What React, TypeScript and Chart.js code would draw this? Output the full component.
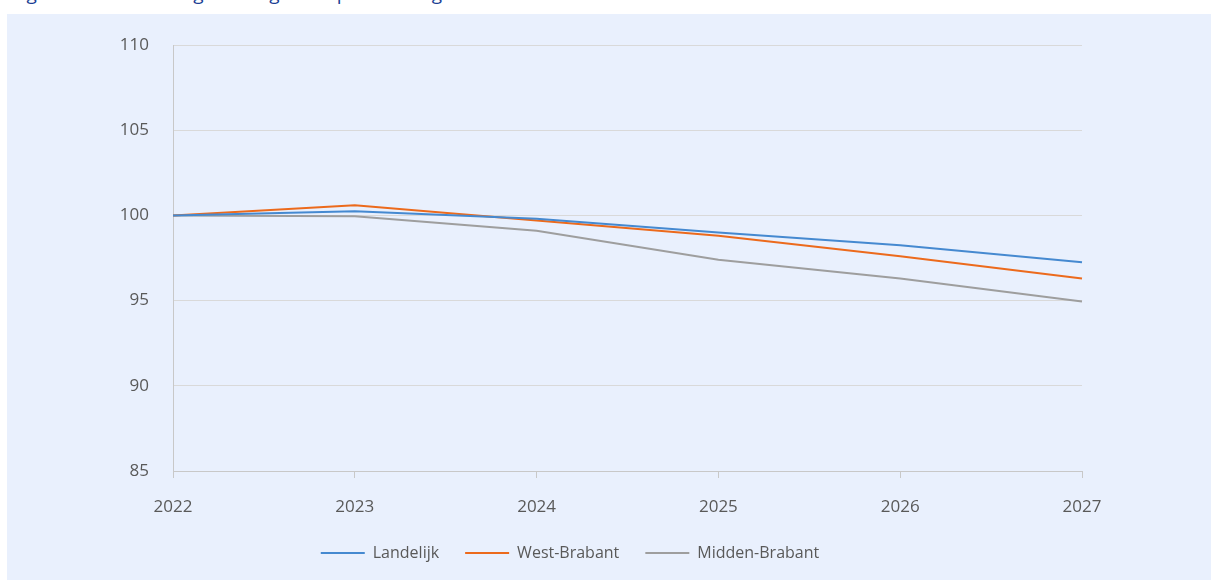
import React, { useEffect, useRef } from "react";
import { Chart, registerables } from "chart.js";

Chart.register(...registerables);

const years = ["2022", "2023", "2024", "2025", "2026", "2027"];
const landelijk = [100, 100.25, 99.8, 99.0, 98.25, 97.25];
const westBrabant = [100, 100.6, 99.7, 98.8, 97.6, 96.3];
const middenBrabant = [100, 99.95, 99.1, 97.4, 96.3, 94.95];

const seriesNames = ["Landelijk", "West-Brabant", "Midden-Brabant"];
const seriesColors = ["#4589d0", "#ec6a1c", "#9e9e9e"];

const yMin = 85;
const yMax = 110;
const yStep = 5;

export default function App() {
  const canvasRef = useRef<HTMLCanvasElement | null>(null);

  useEffect(() => {
    if (!canvasRef.current) return;
    const seriesData = [landelijk, westBrabant, middenBrabant];
    const chart = new Chart(canvasRef.current, {
      type: "line",
      data: {
        labels: years,
        datasets: seriesData.map((d, i) => ({
          label: seriesNames[i],
          data: d,
          borderColor: seriesColors[i],
          backgroundColor: seriesColors[i],
          borderWidth: 2,
          pointRadius: 0,
          tension: 0,
          fill: false,
        })),
      },
      options: {
        animation: false,
        responsive: false,
        maintainAspectRatio: false,
        layout: { padding: { left: 51, right: 129, top: 31, bottom: 9 } },
        plugins: {
          tooltip: { enabled: false },
          legend: {
            position: "bottom",
            labels: {
              boxWidth: 44,
              boxHeight: 2,
              padding: 26,
              color: "#595959",
              font: { family: "'Open Sans', sans-serif", size: 16 },
              generateLabels: (c: any) =>
                Chart.defaults.plugins.legend.labels
                  .generateLabels(c)
                  .map((l: any) => ({ ...l, lineWidth: 0 })),
            },
          },
        },
        scales: {
          x: {
            offset: false,
            grid: {
              drawOnChartArea: false,
              drawTicks: true,
              tickLength: 7,
              color: "#c8c8c8",
              lineWidth: 1,
            },
            border: { display: true, color: "#c8c8c8", width: 1 },
            ticks: {
              padding: 19,
              color: "#595959",
              maxRotation: 0,
              font: { family: "'Open Sans', sans-serif", size: 17 },
            },
            afterFit: (scale: any) => {
              scale.height = 48;
            },
          },
          y: {
            min: yMin,
            max: yMax,
            grid: {
              drawTicks: false,
              color: "#d9d9d9",
              lineWidth: 1,
            },
            border: { display: true, color: "#c8c8c8", width: 1 },
            ticks: {
              stepSize: yStep,
              padding: 24,
              color: "#595959",
              font: { family: "'Open Sans', sans-serif", size: 17 },
            },
            afterFit: (scale: any) => {
              scale.width = 115;
              scale.paddingTop = 10;
              scale.paddingBottom = 10;
            },
          },
        },
      },
    });
    return () => chart.destroy();
  }, []);

  return (
    <div
      style={{
        position: "absolute",
        left: 0,
        top: 0,
        width: 1211,
        height: 580,
        overflow: "hidden",
        background: "#ffffff",
      }}
    >
      <div
        style={{
          position: "absolute",
          top: -19,
          left: 12,
          fontFamily: "'Open Sans', sans-serif",
          fontSize: 19,
          lineHeight: "24px",
          color: "#1c3f94",
          whiteSpace: "nowrap",
        }}
      >
        Figuur 2 Ontwikkeling omvang beroepsbevolking
      </div>
      <div
        style={{
          position: "absolute",
          left: 7,
          top: 14,
          width: 1204,
          height: 566,
          background: "#e9f0fd",
        }}
      >
        <canvas ref={canvasRef} width={1204} height={566} style={{ display: "block" }} />
      </div>
    </div>
  );
}
